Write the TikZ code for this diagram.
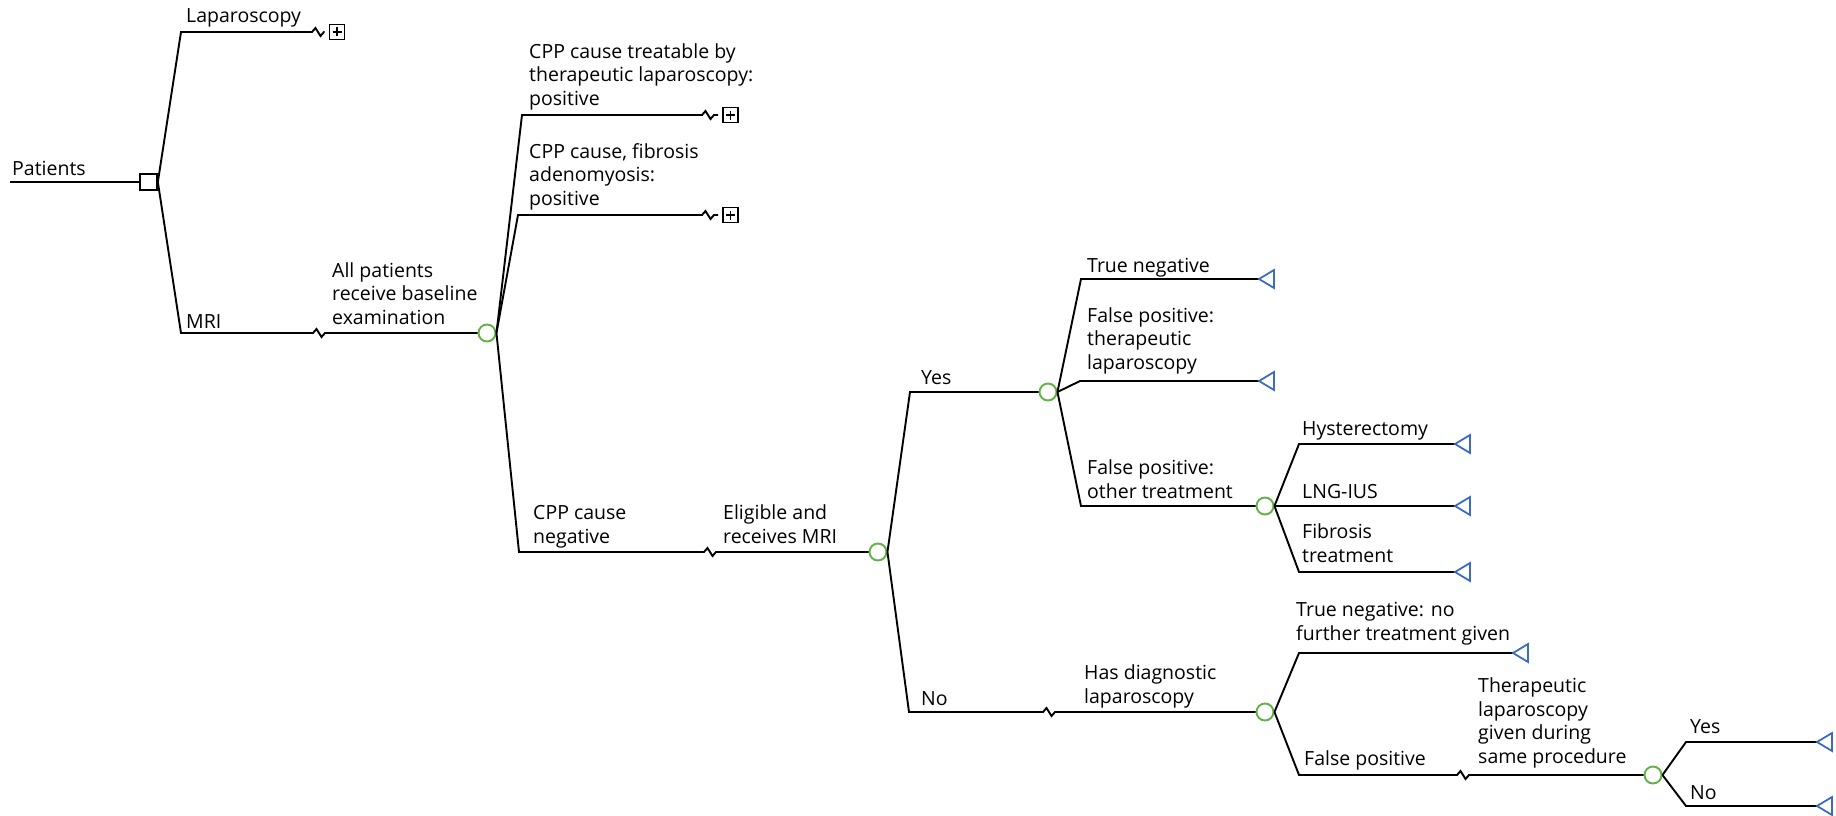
\documentclass[tikz,border=0pt]{standalone}
\usepackage{fontspec}
\setmainfont{Open Sans}
\definecolor{chancegreen}{RGB}{98,178,70}
\definecolor{termblue}{RGB}{58,108,192}
\begin{document}
\begin{tikzpicture}[x=1pt,y=-1pt,
  branch/.style={draw=black, line width=1.9pt, line join=miter},
  decision/.style={rectangle, draw=black, line width=1.7pt, minimum width=17pt, minimum height=16pt, inner sep=0pt, fill=white},
  chance/.style={circle, draw=chancegreen, line width=1.9pt, minimum size=17pt, inner sep=0pt, fill=white},
  subtree/.style={rectangle, draw=black, line width=1.5pt, minimum size=15pt, inner sep=0pt, outer sep=5pt,
    path picture={\draw[line width=1.4pt]
      ([xshift=-4.5pt]path picture bounding box.center) -- ([xshift=4.5pt]path picture bounding box.center)
      ([yshift=-4.5pt]path picture bounding box.center) -- ([yshift=4.5pt]path picture bounding box.center);}},
  terminal/.style={draw=termblue, line width=1.8pt, line join=miter},
  brk/.style={to path={-- ++(3.5,-4) -- ++(5,8) -- ++(3.5,-4) -- (\tikztotarget)}},
  lbl/.style={anchor=base west, align=left, inner sep=0pt, font=\fontsize{19.5}{23.5}\selectfont},
]
\useasboundingbox (0,0) rectangle (1836,816);

% ---- nodes ----
\coordinate (s0) at (10,182);
\node[decision] (D) at (148.5,182) {};
\node[subtree] (P1) at (337,32) {};
\node[chance] (C1) at (487,333) {};
\node[subtree] (P2) at (730.5,115) {};
\node[subtree] (P3) at (730.5,215) {};
\node[chance] (C2) at (878,552) {};
\node[chance] (C3) at (1048,392) {};
\node[chance] (C4) at (1265,712) {};
\node[chance] (C5) at (1265,506) {};
\node[chance] (C6) at (1653,775) {};

% ---- corners, breaks and terminal tips ----
\coordinate (klap) at (181,32);   \coordinate (zlap) at (312,32);
\coordinate (kmri) at (181,333);  \coordinate (zmri) at (313,333);
\coordinate (ka) at (522,115);    \coordinate (za) at (702,115);
\coordinate (kb) at (518,215);    \coordinate (zb) at (702,215);
\coordinate (kc) at (519,552);    \coordinate (zc) at (704,552);
\coordinate (kyes) at (910,392);
\coordinate (kno) at (909,712);   \coordinate (zno) at (1043,712);
\coordinate (ktn) at (1081,279);  \coordinate (ttn) at (1259,279);
\coordinate (kfpl) at (1080,381); \coordinate (tfpl) at (1259,381);
\coordinate (kfpo) at (1081,506);
\coordinate (khy) at (1299,444);  \coordinate (thy) at (1455,444);
\coordinate (tlng) at (1455,506);
\coordinate (kfib) at (1299,572); \coordinate (tfib) at (1455,572);
\coordinate (ktn2) at (1299,653); \coordinate (ttn2) at (1513,653);
\coordinate (kfp2) at (1299,775); \coordinate (zfp2) at (1457,775);
\coordinate (ky2) at (1686,742);  \coordinate (ty2) at (1817,742);
\coordinate (kn2) at (1686,806);  \coordinate (tn2) at (1817,806);

% ---- branches ----
\draw[branch] (s0) -- (D.west);
\draw[branch] (D.east) -- (klap) -- (zlap) to[brk] (P1);
\draw[branch] (D.east) -- (kmri) -- (zmri) to[brk] (C1);
\draw[branch] (C1.east) -- (ka) -- (za) to[brk] (P2);
\draw[branch] (C1.east) -- (kb) -- (zb) to[brk] (P3);
\draw[branch] (C1.east) -- (kc) -- (zc) to[brk] (C2);
\draw[branch] (C2.east) -- (kyes) -- (C3);
\draw[branch] (C2.east) -- (kno) -- (zno) to[brk] (C4);
\draw[branch] (C3.east) -- (ktn) -- (ttn);
\draw[branch] (C3.east) -- (kfpl) -- (tfpl);
\draw[branch] (C3.east) -- (kfpo) -- (C5);
\draw[branch] (C5.east) -- (khy) -- (thy);
\draw[branch] (C5.east) -- (tlng);
\draw[branch] (C5.east) -- (kfib) -- (tfib);
\draw[branch] (C4.east) -- (ktn2) -- (ttn2);
\draw[branch] (C4.east) -- (kfp2) -- (zfp2) to[brk] (C6);
\draw[branch] (C6.east) -- (ky2) -- (ty2);
\draw[branch] (C6.east) -- (kn2) -- (tn2);

% ---- terminal markers ----
\foreach \t in {ttn,tfpl,thy,tlng,tfib,ttn2,ty2,tn2}
  \draw[terminal] (\t) -- ++(15,-9) -- ++(0,18) -- cycle;

% ---- labels (anchored at the baseline of the last line) ----
\node[lbl] (lpat) at (12,175) {Patients};
\node[lbl] (llap) at (186,23) {Laparoscopy};
\node[lbl] (lmri) at (186,328) {MRI};
\node[lbl] (lall) at (332,324) {All patients\\receive baseline\\examination};
\node[lbl] (ltreat) at (529,105) {CPP cause treatable by\\therapeutic laparoscopy:\\positive};
\node[lbl] (lfib) at (529,205) {CPP cause, fibrosis\\adenomyosis:\\positive};
\node[lbl] (lneg) at (533,543) {CPP cause\\negative};
\node[lbl] (lelig) at (723,543) {Eligible and\\receives MRI};
\node[lbl] (lyes) at (921,384) {Yes};
\node[lbl] (lno) at (921,705) {No};
\node[lbl] (ldiag) at (1084,703) {Has diagnostic\\laparoscopy};
\node[lbl] (ltn) at (1087,272) {True negative};
\node[lbl] (lfpl) at (1087,369) {False positive:\\therapeutic\\laparoscopy};
\node[lbl] (lfpo) at (1087,498) {False positive:\\other treatment};
\node[lbl] (lhy) at (1302,435) {Hysterectomy};
\node[lbl] (llng) at (1302,498) {LNG-IUS};
\node[lbl] (lfibt) at (1302,562) {Fibrosis\\treatment};
\node[lbl] (ltn2) at (1296,640) {True negative: no\\further treatment given};
\node[lbl] (lfp2) at (1304,765) {False positive};
\node[lbl] (lther) at (1478,763) {Therapeutic\\laparoscopy\\given during\\same procedure};
\node[lbl] (ly2) at (1690,733) {Yes};
\node[lbl] (ln2) at (1690,799) {No};
\end{tikzpicture}
\end{document}
